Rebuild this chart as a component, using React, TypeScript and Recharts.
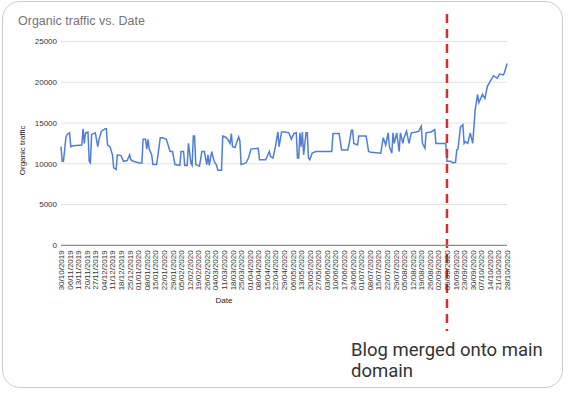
import { LineChart, Line, XAxis, YAxis, CartesianGrid, ReferenceLine, Label } from 'recharts';

// weekly tick labels (every 7th day from 30/10/2019)
const TICK_LABELS = [
  '30/10/2019', '06/11/2019', '13/11/2019', '20/11/2019', '27/11/2019', '04/12/2019', '11/12/2019',
  '18/12/2019', '25/12/2019', '01/01/2020', '08/01/2020', '15/01/2020', '22/01/2020', '29/01/2020',
  '05/02/2020', '12/02/2020', '19/02/2020', '26/02/2020', '04/03/2020', '11/03/2020', '18/03/2020',
  '25/03/2020', '01/04/2020', '08/04/2020', '15/04/2020', '22/04/2020', '29/04/2020', '06/05/2020',
  '13/05/2020', '20/05/2020', '27/05/2020', '03/06/2020', '10/06/2020', '17/06/2020', '24/06/2020',
  '01/07/2020', '08/07/2020', '15/07/2020', '22/07/2020', '29/07/2020', '05/08/2020', '12/08/2020',
  '19/08/2020', '26/08/2020', '02/09/2020', '09/09/2020', '16/09/2020', '23/09/2020', '30/09/2020',
  '07/10/2020', '14/10/2020', '21/10/2020', '28/10/2020',
];

// day offset from 30/10/2019
const DAYS = [
  0, 1, 2, 4, 5, 7, 8, 10, 17, 18, 19, 20, 22, 23, 24, 25, 28, 30, 31, 33, 36, 37, 38, 40, 42, 43, 45, 46,
  49, 51, 54, 56, 57, 59, 64, 66, 67, 69, 70, 71, 72, 74, 75, 78, 79, 81, 83, 86, 87, 89, 91, 93, 97, 98,
  100, 101, 103, 104, 106, 107, 108, 109, 110, 113, 115, 117, 119, 120, 121, 123, 125, 127, 128, 131, 132,
  134, 136, 138, 139, 140, 142, 145, 146, 147, 151, 153, 155, 161, 162, 167, 170, 171, 173, 175, 177, 178,
  180, 183, 186, 188, 190, 192, 193, 194, 195, 196, 197, 198, 200, 201, 202, 203, 205, 208, 214, 221, 222,
  227, 229, 234, 235, 237, 238, 239, 242, 243, 246, 249, 250, 251, 253, 261, 263, 265, 267, 268, 270, 271,
  272, 274, 276, 277, 279, 280, 282, 284, 286, 290, 292, 294, 295, 297, 298, 302, 305, 306, 314, 315, 318,
  320, 322, 323, 324, 326, 328, 329, 330, 332, 334, 336, 338, 340, 341, 344, 346, 348, 351, 353, 356, 358,
  361, 362, 364,
];

const TRAFFIC = [
  12100, 10300, 10300, 13200, 13600, 13800, 12100, 12200, 12300, 14300, 12500, 13800, 13900, 10300, 10100,
  13600, 13800, 12100, 13000, 14000, 14300, 14300, 12300, 12100, 11100, 9500, 9300, 11100, 11000, 10300,
  10400, 11100, 10500, 10300, 10100, 10100, 13000, 13000, 11800, 13000, 11800, 11100, 9900, 9900, 10900,
  13200, 13200, 13000, 12500, 11500, 11500, 9900, 9800, 11500, 11500, 9800, 9800, 12500, 10100, 9800,
  13400, 13400, 9900, 9700, 11500, 11500, 9900, 11100, 9800, 11500, 10300, 9800, 9200, 9200, 13400,
  13300, 13000, 12500, 13700, 12100, 12000, 13300, 12800, 9900, 10100, 10700, 11800, 11900, 10500, 10500,
  11500, 10900, 10700, 12100, 13900, 12100, 13900, 13900, 13800, 13000, 13700, 13800, 10700, 10700, 13800,
  12100, 13900, 11100, 13800, 13800, 10700, 10500, 11300, 11500, 11500, 11500, 13700, 13700, 11700, 11700,
  12300, 14100, 14100, 12500, 12300, 13400, 13400, 13400, 12500, 11500, 11400, 11300, 13200, 12300, 13800,
  12100, 11300, 13800, 12500, 13800, 11500, 13800, 12500, 13200, 14000, 12500, 13800, 13900, 14000, 14600,
  12500, 11900, 13800, 13900, 14200, 12500, 12500, 10300, 10300, 10100, 10200, 11700, 11800, 14500, 14800,
  12500, 12700, 12500, 13800, 12500, 16600, 18500, 17500, 18500, 18000, 19500, 20300, 20800, 20500, 21000,
  20900, 21200, 22300,
];

const Y_TICKS = [0, 5000, 10000, 15000, 20000, 25000];
const MERGE_DAY = 315;

const data = DAYS.map((day, i) => ({ day, traffic: TRAFFIC[i] }));
const xTicks = TICK_LABELS.map((_, i) => i * 7);

const FONT = '"Liberation Sans", Arial, sans-serif';

const DateTick = ({ x, y, payload }: any) => (
  <g transform={`translate(${x},${y})`}>
    <text transform="rotate(-90)" textAnchor="end" dy={3} fontSize={8} fill="#333" fontFamily={FONT}>
      {TICK_LABELS[Math.round(payload.value / 7)]}
    </text>
  </g>
);

const YTitle = ({ viewBox }: any) => {
  const cx = viewBox.x + 9;
  const cy = viewBox.y + viewBox.height / 2 + 7;
  return (
    <text x={cx} y={cy} transform={`rotate(-90 ${cx} ${cy})`} textAnchor="middle"
      fontSize={8} fill="#222" fontFamily={FONT}>
      Organic traffic
    </text>
  );
};

const XTitle = ({ viewBox }: any) => (
  <text x={viewBox.x + 163} y={viewBox.y + 58} textAnchor="middle" fontSize={8} fill="#222" fontFamily={FONT}>
    Date
  </text>
);

// dashed marker runs past the plot, up to the title and down to the note
const MergeLine = (props: any) => (
  <line x1={props.x1} x2={props.x2} y1={14} y2={331} stroke="#d2312b" strokeWidth={2.5} strokeDasharray="9 6" />
);

export default function App() {
  return (
    <div style={{ position: 'absolute', left: 0, top: 0, width: 568, height: 394, background: '#fff', fontFamily: FONT }}>
      <div style={{
        position: 'absolute', left: 2, top: 1, width: 561, height: 387, boxSizing: 'border-box',
        border: '1px solid #cdcdcd', borderRadius: 18,
      }} />
      <div style={{ position: 'absolute', left: 18, top: 14, fontSize: 12.5, lineHeight: '14px', color: '#757575' }}>
        Organic traffic vs. Date
      </div>
      <div style={{ position: 'absolute', left: 0, top: 0 }}>
        <LineChart width={568} height={394} data={data} margin={{ top: 41.5, right: 61, bottom: 78.7, left: 16 }}>
          <CartesianGrid vertical={false} stroke="#e2e2e2" />
          <XAxis dataKey="day" type="number" domain={[0, 364]} ticks={xTicks} interval={0}
            height={70} tickLine={false} tickSize={3} tickMargin={2} axisLine={{ stroke: '#8f8f8f', strokeWidth: 1.2 }}
            tick={<DateTick />}>
            <Label content={<XTitle />} />
          </XAxis>
          <YAxis domain={[0, 25000]} ticks={Y_TICKS} width={45} tickLine={false} axisLine={false}
            tickSize={2} tickMargin={2} tick={{ fontSize: 8, fill: '#333', fontFamily: FONT }}>
            <Label content={<YTitle />} />
          </YAxis>
          <Line type="linear" dataKey="traffic" stroke="#4f7fd4" strokeWidth={1.5} dot={false} isAnimationActive={false} />
          <ReferenceLine x={MERGE_DAY} shape={<MergeLine />} />
        </LineChart>
      </div>
      <div style={{
        position: 'absolute', left: 351, top: 340, fontFamily: 'Roboto, sans-serif', fontSize: 18.5,
        lineHeight: '21px', color: '#333',
      }}>
        Blog merged onto main<br />domain
      </div>
    </div>
  );
}
